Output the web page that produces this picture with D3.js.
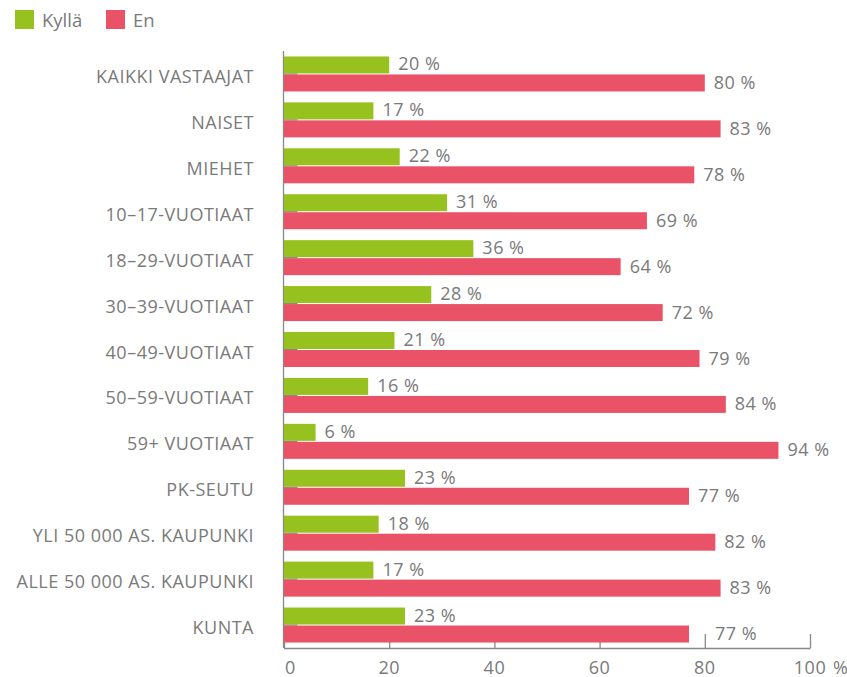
<!DOCTYPE html>
<html>
<head>
<meta charset="utf-8">
<script src="https://cdn.jsdelivr.net/npm/d3@7"></script>
<style>
  body { margin: 0; background: #fff; }
  text { font-family: "Open Sans", sans-serif; fill: #7a7a7a; }
</style>
</head>
<body>
<div id="chart"></div>
<script>
var categories = ["KAIKKI VASTAAJAT", "NAISET", "MIEHET", "10–17-VUOTIAAT", "18–29-VUOTIAAT",
                  "30–39-VUOTIAAT", "40–49-VUOTIAAT", "50–59-VUOTIAAT", "59+ VUOTIAAT", "PK-SEUTU",
                  "YLI 50 000 AS. KAUPUNKI", "ALLE 50 000 AS. KAUPUNKI", "KUNTA"];
var kylla = [20, 17, 22, 31, 36, 28, 21, 16, 6, 23, 18, 17, 23];
var en    = [80, 83, 78, 69, 64, 72, 79, 84, 94, 77, 82, 83, 77];
var seriesNames = ["Kyllä", "En"];
var xTicks = [0, 20, 40, 60, 80, 100];

var width = 847, height = 677,
    plotLeft = 284, plotRight = 810,
    plotTop = 51, plotBottom = 648,
    barH = 17,
    green = "#97c11f",
    red = "#ea5268",
    axisColor = "#888";

var svg = d3.select("#chart")
            .append("svg")
              .attr("width", width)
              .attr("height", height);

var x = d3.scaleLinear()
          .domain([0, 100])
          .range([plotLeft, plotRight]);

var y = d3.scaleBand()
          .domain(categories)
          .range([plotTop, plotBottom]);

// legend
var legend = svg.append("g");
seriesNames.forEach(function(name, i){
    var lx = i == 0 ? 15 : 106;
    legend.append("rect")
        .attr("x", lx).attr("y", 10)
        .attr("width", 19).attr("height", 19)
        .style("fill", i == 0 ? green : red);
    legend.append("text")
        .attr("x", lx + 27).attr("y", 27)
        .style("font-size", "18.5px")
        .text(name);
});

// axes (drawn first, bars cover the ticks)
var xAxis = d3.axisBottom(x)
    .tickValues(xTicks)
    .tickSize(-14)
    .tickFormat("");

svg.append("g")
    .attr("transform", "translate(0," + plotBottom + ")")
    .call(xAxis)
    .call(function(g){
        g.select(".domain").attr("d", "M" + plotLeft + ",0.5H" + (plotRight + 0.5));
        g.selectAll("line").style("stroke", axisColor).style("stroke-width", 1.3);
        g.select(".domain").style("stroke", axisColor).style("stroke-width", 1.3);
    });

var yAxis = d3.axisLeft(y)
    .tickSize(-14)
    .tickFormat("");

svg.append("g")
    .attr("transform", "translate(" + (plotLeft - 0.5) + ",0)")
    .call(yAxis)
    .call(function(g){
        g.select(".domain").attr("d", "M0," + plotTop + "V" + plotBottom);
        g.selectAll("line").style("stroke", axisColor).style("stroke-width", 1.3);
        g.select(".domain").style("stroke", axisColor).style("stroke-width", 1.3);
    });

// tick labels
svg.append("g").selectAll("text")
    .data(xTicks)
    .enter().append("text")
      .attr("x", function(d){ return d == 0 ? x(d) + 1 : x(d); })
      .attr("y", 674)
      .attr("text-anchor", function(d){ return d == 0 ? "start" : "middle"; })
      .style("font-size", "18px")
      .style("letter-spacing", "0.5px")
      .text(function(d){ return d; });

svg.append("text")
    .attr("x", 833).attr("y", 674)
    .style("font-size", "18px")
    .text("%");

// category labels
svg.append("g").selectAll("text")
    .data(categories)
    .enter().append("text")
      .attr("x", 254)
      .attr("y", function(d){ return y(d) + y.bandwidth() / 2 + 9; })
      .attr("text-anchor", "end")
      .style("font-size", "18px")
      .style("letter-spacing", "0.5px")
      .text(function(d){ return d; });

// bars
var rows = categories.map(function(c, i){ return {cat: c, k: kylla[i], e: en[i]}; });

var g = svg.append("g");

g.selectAll(".bar-k")
    .data(rows)
    .enter().append("rect")
      .attr("class", "bar-k")
      .attr("x", x(0))
      .attr("y", function(d){ return y(d.cat) + y.bandwidth() / 2 - barH - 0.5; })
      .attr("width", function(d){ return x(d.k) - x(0); })
      .attr("height", barH)
      .style("fill", green);

g.selectAll(".bar-e")
    .data(rows)
    .enter().append("rect")
      .attr("class", "bar-e")
      .attr("x", x(0))
      .attr("y", function(d){ return y(d.cat) + y.bandwidth() / 2 + 0.5; })
      .attr("width", function(d){ return x(d.e) - x(0); })
      .attr("height", barH)
      .style("fill", red);

// value labels
g.selectAll(".lab-k")
    .data(rows)
    .enter().append("text")
      .attr("x", function(d){ return x(d.k) + 9; })
      .attr("y", function(d){ return y(d.cat) + y.bandwidth() / 2 - 3.5; })
      .style("font-size", "18px")
      .style("letter-spacing", "0.5px")
      .text(function(d){ return d.k + " %"; });

g.selectAll(".lab-e")
    .data(rows)
    .enter().append("text")
      .attr("x", function(d, i){
          // last label sits past the 80 tick
          return x(d.e) + (i == rows.length - 1 ? 26 : 9);
      })
      .attr("y", function(d){ return y(d.cat) + y.bandwidth() / 2 + 15; })
      .style("font-size", "18px")
      .style("letter-spacing", "0.5px")
      .text(function(d){ return d.e + " %"; });
</script>
</body>
</html>
